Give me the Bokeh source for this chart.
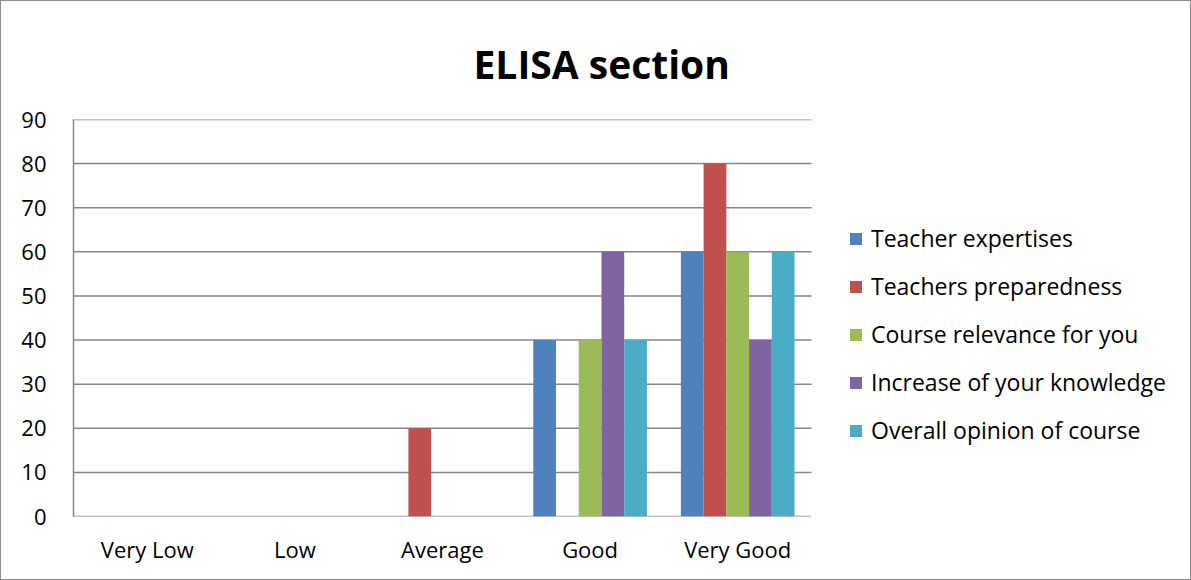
from bokeh.plotting import figure
from bokeh.models import ColumnDataSource, Legend, LegendItem, Title, FixedTicker, Range1d
from bokeh.embed import file_html
from bokeh.resources import INLINE

categories = ["Very Low", "Low", "Average", "Good", "Very Good"]
series_names = ["Teacher expertises", "Teachers preparedness", "Course relevance for you",
                "Increase of your knowledge", "Overall opinion of course"]
teacher_expertises = [0, 0, 0, 40, 60]
teachers_preparedness = [0, 0, 20, 0, 80]
course_relevance = [0, 0, 0, 40, 60]
increase_knowledge = [0, 0, 0, 60, 40]
overall_opinion = [0, 0, 0, 40, 60]
colors = ["#4F81BD", "#C0504D", "#9BBB59", "#8064A2", "#4BACC6"]
y_ticks = [0, 10, 20, 30, 40, 50, 60, 70, 80, 90]

series = [teacher_expertises, teachers_preparedness, course_relevance, increase_knowledge, overall_opinion]
n = len(categories)
idx = list(range(n))

FONT = "Open Sans"
W, H = 1191, 580
LEFT, RIGHT, TOP, BOTTOM = 72, 1, 118, 65
plot_w = 738  # pixel width of the category area
frame_w = W - LEFT - RIGHT
x_end = -0.5 + frame_w * n / plot_w

p = figure(width=W, height=H, x_range=Range1d(-0.5, x_end),
           y_range=Range1d(0, 90), output_backend="svg", toolbar_location=None,
           min_border_left=LEFT, min_border_right=RIGHT, min_border_top=TOP, min_border_bottom=BOTTOM)
p.outline_line_color = None
p.styles = {"border": "1px solid #8c8c8c", "box-sizing": "border-box"}

# horizontal gridlines limited to the category area
p.segment(x0=[-0.5] * len(y_ticks), x1=[n - 0.5] * len(y_ticks), y0=y_ticks, y1=y_ticks,
          line_color="#868686", line_width=1.5)

bw = 0.154
offsets = [-2 * bw, -bw, 0, bw, 2 * bw]
renderers = []
for s, c, off in zip(series, colors, offsets):
    src = ColumnDataSource(dict(x=[i + off for i in idx], top=s))
    r = p.vbar(x="x", top="top", width=bw, source=src, fill_color=c, line_color=None)
    renderers.append(r)

p.xgrid.grid_line_color = None
p.ygrid.grid_line_color = None
p.yaxis.ticker = FixedTicker(ticks=y_ticks)
p.xaxis.ticker = FixedTicker(ticks=idx)
p.xaxis.major_label_overrides = {i: c for i, c in zip(idx, categories)}
p.xaxis.axis_line_color = None
p.yaxis.axis_line_color = "#868686"
p.yaxis.axis_line_width = 1.5
for ax in (p.xaxis, p.yaxis):
    ax.major_tick_line_color = None
    ax.minor_tick_line_color = None
    ax.major_label_text_font = FONT
    ax.major_label_text_font_size = "22px"
    ax.major_label_text_color = "#000000"
p.yaxis.major_label_standoff = 21
p.xaxis.major_label_standoff = 11

legend = Legend(items=[LegendItem(label=nm, renderers=[r]) for nm, r in zip(series_names, renderers)],
                location=(775, 70), border_line_color=None, background_fill_alpha=0,
                label_text_font=FONT, label_text_font_size="23px", label_text_color="#000000",
                glyph_width=15, glyph_height=15,
                spacing=16, label_standoff=8, padding=0, margin=0)
p.add_layout(legend, "center")

title = Title(text="ELISA section", align="left", text_font=FONT, text_font_size="39px",
              text_font_style="bold", text_color="#000000", offset=400, standoff=60)
p.add_layout(title, "above")

open("out.html", "w").write(file_html(p, INLINE))
